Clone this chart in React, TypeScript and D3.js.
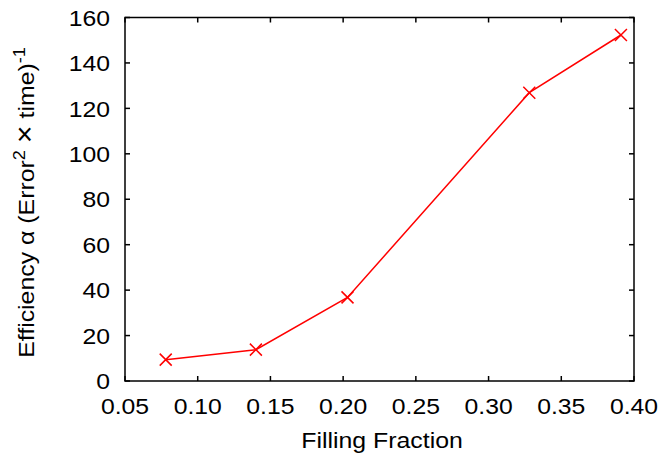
import React from "react";
import * as d3 from "d3";

const fractions = [0.078, 0.140, 0.203, 0.328, 0.391];
const efficiency = [9.4, 13.8, 36.8, 126.9, 152.3];
const xTicks = [0.05, 0.1, 0.15, 0.2, 0.25, 0.3, 0.35, 0.4];
const yTicks = [0, 20, 40, 60, 80, 100, 120, 140, 160];

export default function App() {
  const W = 660, H = 453;
  const left = 125, right = 634, top = 17.5, bottom = 381;
  const x = d3.scaleLinear().domain([0.05, 0.4]).range([left, right]);
  const y = d3.scaleLinear().domain([0, 160]).range([bottom, top]);
  const line = d3.line<number>().x((d, i) => x(fractions[i])).y((d) => y(d));
  const font = "Liberation Sans, Arial, sans-serif";
  const fs = 22.5;
  const sx = 1.1;
  const tl = 5;
  const s = 6;
  return (
    <svg width={W} height={H} style={{ position: "absolute", left: 0, top: 0 }} fontFamily={font}>
      <rect x={0} y={0} width={W} height={H} fill="white" />
      {xTicks.map((t) => (
        <g key={"x" + t}>
          <line x1={x(t)} x2={x(t)} y1={bottom} y2={bottom - tl} stroke="black" strokeWidth={1.5} />
          <line x1={x(t)} x2={x(t)} y1={top} y2={top + tl} stroke="black" strokeWidth={1.5} />
          <text transform={`translate(${x(t)},414) scale(${sx},1)`} fontSize={fs} textAnchor="middle">{t.toFixed(2)}</text>
        </g>
      ))}
      {yTicks.map((t) => (
        <g key={"y" + t}>
          <line x1={left} x2={left + tl} y1={y(t)} y2={y(t)} stroke="black" strokeWidth={1.5} />
          <line x1={right} x2={right - tl} y1={y(t)} y2={y(t)} stroke="black" strokeWidth={1.5} />
          <text transform={`translate(110,${y(t) + 8.2}) scale(${sx},1)`} fontSize={fs} textAnchor="end">{t}</text>
        </g>
      ))}
      <rect x={left} y={top} width={right - left} height={bottom - top} fill="none" stroke="black" strokeWidth={1.5} />
      <path d={line(efficiency) || ""} fill="none" stroke="red" strokeWidth={1.5} />
      {efficiency.map((v, i) => {
        const cx = x(fractions[i]), cy = y(v);
        return (
          <path key={i} d={`M${cx - s},${cy - s}L${cx + s},${cy + s}M${cx - s},${cy + s}L${cx + s},${cy - s}`} stroke="red" strokeWidth={1.5} />
        );
      })}
      <text transform={`translate(382,448.3) scale(1.13,1)`} fontSize={22} textAnchor="middle">Filling Fraction</text>
      <text transform={`translate(33.6,202.5) rotate(-90) scale(1.13,1)`} fontSize={22} textAnchor="middle">
        Efficiency α (Error<tspan dy={-9} fontSize={16}>2</tspan><tspan dy={9}> </tspan><tspan fontSize={27}>×</tspan><tspan> time)</tspan><tspan dy={-9} fontSize={16}>-1</tspan>
      </text>
    </svg>
  );
}
